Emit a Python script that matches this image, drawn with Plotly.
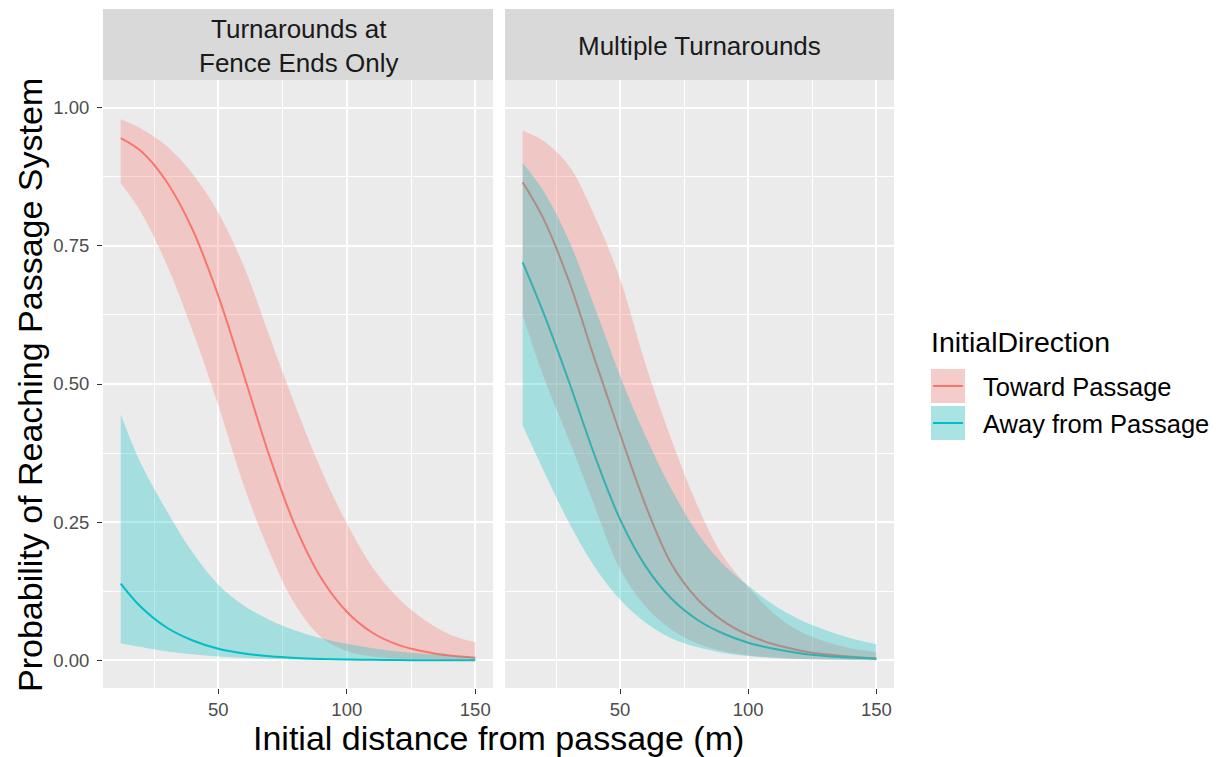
import plotly.graph_objects as go

# ---------------- data ----------------
distance = [12, 20, 30, 40, 50, 60, 70, 80, 90, 100, 110, 120, 130, 140, 150]

panels = ["Turnarounds at<br>Fence Ends Only", "Multiple Turnarounds"]
groups = ["Toward Passage", "Away from Passage"]

# Panel 1: Turnarounds at Fence Ends Only
toward_fit_1 = [0.945, 0.921, 0.865, 0.779, 0.659, 0.515, 0.368, 0.242, 0.149, 0.088, 0.050, 0.028, 0.016, 0.0087, 0.0048]
toward_lo_1 = [0.863, 0.810, 0.715, 0.596, 0.461, 0.315, 0.195, 0.100, 0.042, 0.017, 0.007, 0.0032, 0.0016, 0.0008, 0.0004]
toward_hi_1 = [0.979, 0.962, 0.930, 0.880, 0.810, 0.712, 0.585, 0.460, 0.345, 0.248, 0.168, 0.113, 0.074, 0.047, 0.033]
away_fit_1 = [0.139, 0.096, 0.059, 0.036, 0.021, 0.0125, 0.0074, 0.0044, 0.0026, 0.0015, 0.0009, 0.0005, 0.0003, 0.0002, 0.0001]
away_lo_1 = [0.031, 0.024, 0.016, 0.011, 0.007, 0.0042, 0.0025, 0.0015, 0.0009, 0.0005, 0.0003, 0.0002, 0.0001, 0.00006, 0.00003]
away_hi_1 = [0.445, 0.355, 0.270, 0.195, 0.137, 0.099, 0.073, 0.054, 0.040, 0.030, 0.022, 0.016, 0.012, 0.009, 0.006]

# Panel 2: Multiple Turnarounds
toward_fit_2 = [0.865, 0.800, 0.687, 0.546, 0.410, 0.280, 0.175, 0.112, 0.072, 0.046, 0.029, 0.018, 0.011, 0.0065, 0.0035]
toward_lo_2 = [0.625, 0.515, 0.400, 0.280, 0.165, 0.097, 0.056, 0.031, 0.017, 0.009, 0.005, 0.0025, 0.0014, 0.0008, 0.0004]
toward_hi_2 = [0.958, 0.940, 0.895, 0.805, 0.690, 0.535, 0.400, 0.282, 0.190, 0.133, 0.085, 0.053, 0.034, 0.022, 0.015]
away_fit_2 = [0.720, 0.630, 0.505, 0.372, 0.255, 0.170, 0.112, 0.074, 0.049, 0.032, 0.021, 0.013, 0.008, 0.005, 0.003]
away_lo_2 = [0.425, 0.345, 0.250, 0.170, 0.110, 0.068, 0.040, 0.024, 0.014, 0.008, 0.0045, 0.0025, 0.0014, 0.0008, 0.0004]
away_hi_2 = [0.900, 0.850, 0.760, 0.640, 0.515, 0.405, 0.310, 0.232, 0.175, 0.135, 0.100, 0.074, 0.055, 0.040, 0.029]

x_ticks = [50, 100, 150]
x_minor = [25, 75, 125]
y_ticks = [0, 0.25, 0.5, 0.75, 1.0]
y_ticktext = ["0.00", "0.25", "0.50", "0.75", "1.00"]
y_minor = [0.125, 0.375, 0.625, 0.875]

# ---------------- styling ----------------
PAGE_MARGIN = 8                      # default body margin of the html page
W, H = 1218 - PAGE_MARGIN, 757 - PAGE_MARGIN
FONT = "Liberation Sans, Arial, sans-serif"
LINE_COL = {"Toward Passage": "#F8766D", "Away from Passage": "#00BFC4"}
FILL_COL = {"Toward Passage": "rgba(248,118,109,0.3)", "Away from Passage": "rgba(0,191,196,0.3)"}
KEY_COL = {"Toward Passage": "#F4CDCA", "Away from Passage": "#A9E3E4"}


def px(x):
    return (x - PAGE_MARGIN) / W


def py(y):
    return 1 - (y - PAGE_MARGIN) / H


panel_px = [(103, 493), (505, 894)]
panel_top, panel_bot = 80, 688
strip_top = 9

data = {
    1: {"Toward Passage": (toward_fit_1, toward_lo_1, toward_hi_1),
        "Away from Passage": (away_fit_1, away_lo_1, away_hi_1)},
    2: {"Toward Passage": (toward_fit_2, toward_lo_2, toward_hi_2),
        "Away from Passage": (away_fit_2, away_lo_2, away_hi_2)},
}

fig = go.Figure()

for p in (1, 2):
    xa = "x" if p == 1 else "x2"
    ya = "y" if p == 1 else "y2"
    # lines first (ribbons are drawn over them, as in the reference)
    for g in groups:
        fit, lo, hi = data[p][g]
        fig.add_trace(go.Scatter(
            x=distance, y=fit, mode="lines", xaxis=xa, yaxis=ya,
            line=dict(color=LINE_COL[g], width=2, shape="spline", smoothing=1.0),
            showlegend=False, hoverinfo="skip"))
    for g in groups:
        fit, lo, hi = data[p][g]
        fig.add_trace(go.Scatter(
            x=distance, y=lo, mode="lines", xaxis=xa, yaxis=ya,
            line=dict(width=0, color="rgba(0,0,0,0)", shape="spline", smoothing=1.0),
            showlegend=False, hoverinfo="skip"))
        fig.add_trace(go.Scatter(
            x=distance, y=hi, mode="lines", xaxis=xa, yaxis=ya,
            fill="tonexty", fillcolor=FILL_COL[g],
            line=dict(width=0, color="rgba(0,0,0,0)", shape="spline", smoothing=1.0),
            showlegend=False, hoverinfo="skip"))

axis_common = dict(
    showgrid=True, gridcolor="white", gridwidth=1.8, zeroline=False, showline=False,
)

for i, (l, r) in enumerate(panel_px):
    key = "xaxis" if i == 0 else "xaxis2"
    fig.layout[key] = dict(
        domain=[px(l), px(r)], range=[5.1, 156.9], anchor="y" if i == 0 else "y2",
        tickmode="array", tickvals=x_ticks, ticktext=[str(v) for v in x_ticks],
        ticks="outside", ticklen=5, tickwidth=1.3, tickcolor="#333333",
        tickfont=dict(family=FONT, size=18.5, color="#4D4D4D"),
        minor=dict(tickmode="array", tickvals=x_minor, showgrid=True, gridcolor="white", gridwidth=0.9, ticks=""),
        **axis_common)
    ykey = "yaxis" if i == 0 else "yaxis2"
    fig.layout[ykey] = dict(
        domain=[py(panel_bot), py(panel_top)], range=[-0.05, 1.05], anchor="x" if i == 0 else "x2",
        tickmode="array", tickvals=y_ticks, ticktext=y_ticktext,
        ticks="outside" if i == 0 else "", ticklen=5, tickwidth=1.3, tickcolor="#333333",
        showticklabels=(i == 0), ticklabelstandoff=4,
        tickfont=dict(family=FONT, size=18.5, color="#4D4D4D"),
        minor=dict(tickmode="array", tickvals=y_minor, showgrid=True, gridcolor="white", gridwidth=0.9, ticks=""),
        **axis_common)

shapes = []
annotations = []
# facet strips
for (l, r), title in zip(panel_px, panels):
    shapes.append(dict(type="rect", xref="paper", yref="paper", x0=px(l), x1=px(r),
                       y0=py(panel_top), y1=py(strip_top), fillcolor="#D9D9D9", line=dict(width=0),
                       layer="below"))
    annotations.append(dict(xref="paper", yref="paper", x=px((l + r) / 2), y=py((strip_top + panel_top) / 2 + 1),
                            text=title, showarrow=False, xanchor="center", yanchor="middle",
                            font=dict(family=FONT, size=26, color="#1A1A1A")))

# axis titles
annotations.append(dict(xref="paper", yref="paper", x=px((panel_px[0][0] + panel_px[1][1]) / 2), y=py(738),
                        text="Initial distance from passage (m)", showarrow=False,
                        xanchor="center", yanchor="middle", font=dict(family=FONT, size=34, color="black")))
annotations.append(dict(xref="paper", yref="paper", x=px(30), y=py((panel_top + panel_bot) / 2 + 1),
                        text="Probability of Reaching Passage System", showarrow=False, textangle=-90,
                        xanchor="center", yanchor="middle", font=dict(family=FONT, size=34, color="black")))

# legend (drawn as in ggplot: square keys with the fit line across)
annotations.append(dict(xref="paper", yref="paper", x=px(929), y=py(342), text="InitialDirection",
                        showarrow=False, xanchor="left", yanchor="middle",
                        font=dict(family=FONT, size=28.5, color="black")))
key_rows = [(369, 403), (406, 440)]
for (t, b), g in zip(key_rows, groups):
    shapes.append(dict(type="rect", xref="paper", yref="paper", x0=px(931), x1=px(965), y0=py(b), y1=py(t),
                       fillcolor=KEY_COL[g], line=dict(width=0)))
    shapes.append(dict(type="line", xref="paper", yref="paper", x0=px(933), x1=px(963),
                       y0=py((t + b) / 2), y1=py((t + b) / 2), line=dict(color=LINE_COL[g], width=2)))
    annotations.append(dict(xref="paper", yref="paper", x=px(981), y=py((t + b) / 2 + 1), text=g,
                            showarrow=False, xanchor="left", yanchor="middle",
                            font=dict(family=FONT, size=25.5, color="black")))

fig.update_layout(
    width=W, height=H, margin=dict(l=0, r=0, t=0, b=0),
    paper_bgcolor="white", plot_bgcolor="#EBEBEB",
    shapes=shapes, annotations=annotations, showlegend=False,
    font=dict(family=FONT),
)

fig.write_html("out.html")
